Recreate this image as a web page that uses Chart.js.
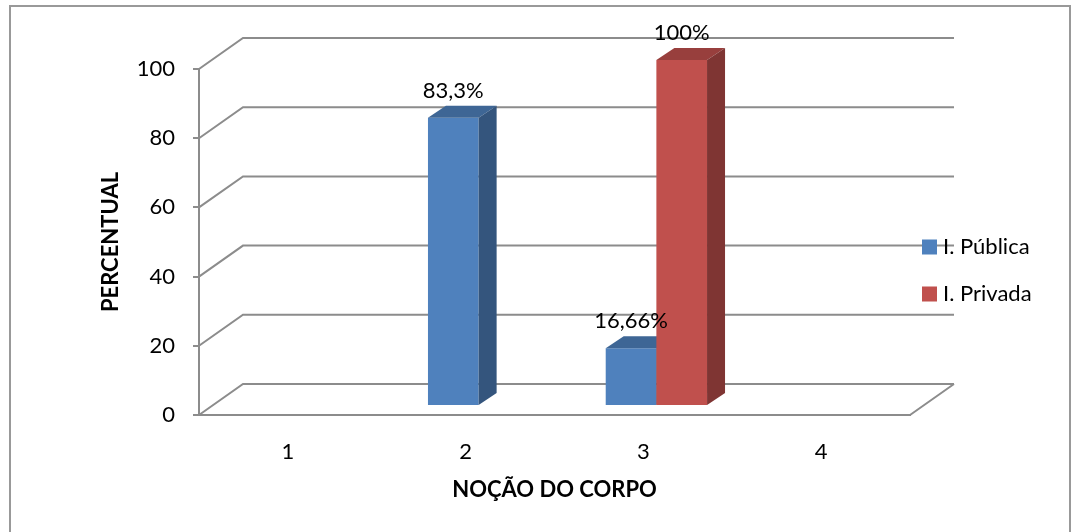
<!DOCTYPE html>
<html lang="pt">
<head>
<meta charset="utf-8">
<title>Noção do corpo</title>
<script src="https://cdn.jsdelivr.net/npm/chart.js@4.4.1/dist/chart.umd.min.js"></script>
<style>
  html, body { margin: 0; padding: 0; background: #fff; }
  #wrap { position: relative; width: 1071px; height: 532px; }
</style>
</head>
<body>
<div id="wrap"><canvas id="nocaoCorpo"></canvas></div>
<script>
// dados do gráfico
const categorias = ['1', '2', '3', '4'];
const publica = [0, 83.3, 16.66, 0];   // I. Pública (%)
const privada = [0, 0, 100, 0];        // I. Privada (%)
const rotulosSerie = ['I. Pública', 'I. Privada'];
const ticksY = [0, 20, 40, 60, 80, 100];

const FONTE = 'Lato, "Open Sans", sans-serif';
const CINZA = '#8c8c8c';

// cores de cada série: frente, topo e lateral (efeito 3D)
const cores = [
  { frente: '#4f81bd', topo: '#3e6695', lado: '#34557d' },
  { frente: '#c0504d', topo: '#983f3d', lado: '#7f3533' }
];

// deslocamentos do "3D": parede do fundo, plano das barras e espessura das barras
const FUNDO = { dx: 44, dy: -31 };
const PLANO = { dx: 13, dy: -9 };
const ESP = { dx: 18, dy: -12 };

function rotuloPct(v) {
  return String(v).replace('.', ',') + '%';
}

const cena3d = {
  id: 'cena3d',
  beforeDraw(chart) {
    const ctx = chart.ctx;
    ctx.save();
    ctx.strokeStyle = '#999';
    ctx.lineWidth = 2;
    ctx.strokeRect(10, 6, 1060, 540);
    ctx.restore();
  },
  beforeDatasetsDraw(chart) {
    // parede do fundo, linhas laterais e piso
    const ctx = chart.ctx;
    const { left, right } = chart.chartArea;
    const y = chart.scales.y;
    ctx.save();
    ctx.strokeStyle = CINZA;
    ctx.lineWidth = 2;
    ctx.beginPath();
    ticksY.forEach(v => {
      const py = y.getPixelForValue(v);
      ctx.moveTo(left, py);
      ctx.lineTo(left + FUNDO.dx, py + FUNDO.dy);
      ctx.lineTo(right + FUNDO.dx, py + FUNDO.dy);
    });
    const y0 = y.getPixelForValue(0);
    ctx.moveTo(right, y0);
    ctx.lineTo(right + FUNDO.dx, y0 + FUNDO.dy);
    ctx.stroke();
    ctx.restore();
  },
  beforeDatasetDraw() {
    // as barras são desenhadas em afterDatasetsDraw, categoria por categoria
    return false;
  },
  afterDatasetsDraw(chart) {
    const ctx = chart.ctx;
    const etiquetas = [];
    categorias.forEach((c, idx) => {
      chart.data.datasets.forEach((ds, di) => {
        const meta = chart.getDatasetMeta(di);
        const bar = meta.data[idx];
        const valor = ds.data[idx];
        if (!bar || !valor) return;
        const { x, y, base, width } = bar.getProps(['x', 'y', 'base', 'width'], true);
        const esq = x - width / 2 + PLANO.dx;
        const dir = x + width / 2 + PLANO.dx;
        const topo = y + PLANO.dy;
        const chao = base + PLANO.dy;

        ctx.save();
        ctx.translate(PLANO.dx, PLANO.dy);
        bar.draw(ctx);
        ctx.restore();

        ctx.save();
        ctx.fillStyle = cores[di].topo;
        ctx.beginPath();
        ctx.moveTo(esq, topo);
        ctx.lineTo(dir, topo);
        ctx.lineTo(dir + ESP.dx, topo + ESP.dy);
        ctx.lineTo(esq + ESP.dx, topo + ESP.dy);
        ctx.closePath();
        ctx.fill();
        ctx.fillStyle = cores[di].lado;
        ctx.beginPath();
        ctx.moveTo(dir, topo);
        ctx.lineTo(dir + ESP.dx, topo + ESP.dy);
        ctx.lineTo(dir + ESP.dx, chao + ESP.dy);
        ctx.lineTo(dir, chao);
        ctx.closePath();
        ctx.fill();
        ctx.restore();

        etiquetas.push({ x: x + PLANO.dx, y: topo - 27, texto: rotuloPct(valor) });
      });
    });
    ctx.save();
    ctx.fillStyle = '#000';
    ctx.font = '22px ' + FONTE;
    ctx.textAlign = 'center';
    ctx.textBaseline = 'middle';
    etiquetas.forEach(e => ctx.fillText(e.texto, e.x, e.y));
    ctx.restore();
  },
  afterDraw(chart) {
    // legenda à direita, sobre a parede do fundo
    const ctx = chart.ctx;
    ctx.save();
    ctx.font = '22px ' + FONTE;
    ctx.textAlign = 'left';
    ctx.textBaseline = 'middle';
    chart.data.datasets.forEach((ds, i) => {
      const cy = 247 + i * 47;
      ctx.fillStyle = ds.backgroundColor;
      ctx.fillRect(922, cy - 7.5, 15, 15);
      ctx.fillStyle = '#000';
      ctx.fillText(ds.label, 943, cy);
    });
    ctx.restore();
  }
};

new Chart(document.getElementById('nocaoCorpo'), {
  type: 'bar',
  data: {
    labels: categorias,
    datasets: [
      { label: rotulosSerie[0], data: publica, backgroundColor: cores[0].frente },
      { label: rotulosSerie[1], data: privada, backgroundColor: cores[1].frente }
    ]
  },
  options: {
    responsive: true,
    maintainAspectRatio: false,
    animation: false,
    devicePixelRatio: 1,
    layout: { padding: { left: 0, right: 161, top: 69, bottom: 0 } },
    datasets: {
      bar: { categoryPercentage: 0.57, barPercentage: 1, borderWidth: 0 }
    },
    plugins: {
      legend: { display: false },
      tooltip: { enabled: false }
    },
    scales: {
      x: {
        grid: { display: false, drawTicks: false },
        border: { display: true, color: CINZA, width: 2 },
        ticks: { color: '#000', font: { family: FONTE, size: 22 }, padding: 24 },
        title: {
          display: true,
          text: 'NOÇÃO DO CORPO',
          color: '#000',
          font: { family: FONTE, size: 22, weight: 'bold' },
          padding: { top: 0, bottom: 29 }
        },
        afterFit(scale) { scale.height = 117; }
      },
      y: {
        min: 0,
        max: 100,
        ticks: { stepSize: 20, color: '#000', font: { family: FONTE, size: 22 }, padding: 18 },
        grid: { drawOnChartArea: false, drawTicks: true, tickLength: 6, color: CINZA, lineWidth: 2 },
        border: { display: true, color: CINZA, width: 2 },
        title: {
          display: true,
          text: 'PERCENTUAL',
          color: '#000',
          font: { family: FONTE, size: 22, weight: 'bold' },
          padding: { top: 98, bottom: 0 }
        },
        afterFit(scale) { scale.width = 199; }
      }
    }
  },
  plugins: [cena3d]
});
</script>
</body>
</html>
